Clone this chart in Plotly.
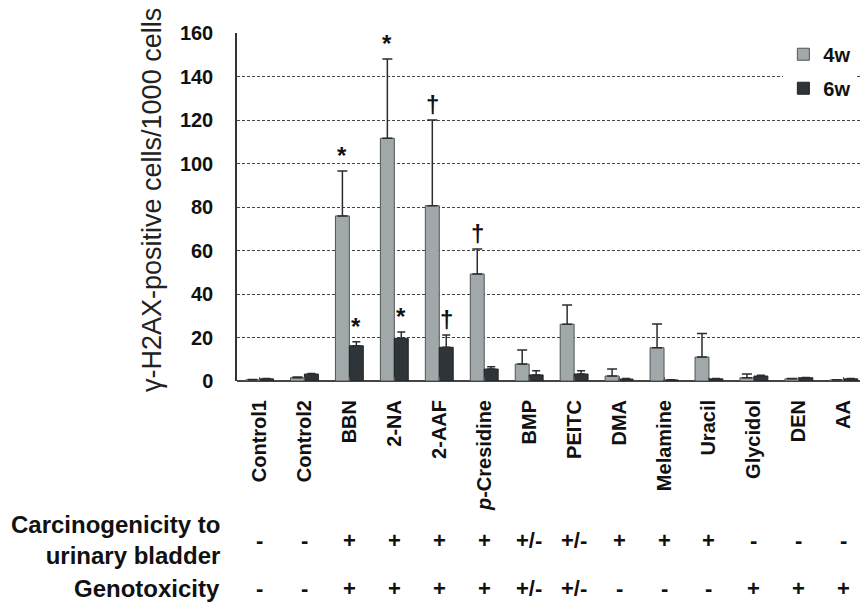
import plotly.graph_objects as go

categories = ["Control1", "Control2", "BBN", "2-NA", "2-AAF", "<i>p</i>-Cresidine", "BMP",
              "PEITC", "DMA", "Melamine", "Uracil", "Glycidol", "DEN", "AA"]
w4_mean = [0.5, 1.5, 75.9, 111.6, 80.6, 49.2, 7.8, 26.1, 2.3, 15.3, 11.0, 1.5, 1.0, 0.5]
w4_sd = [0.2, 0.3, 20.7, 36.4, 39.4, 11.5, 6.5, 8.8, 3.2, 10.9, 10.8, 1.7, 0.2, 0.1]
w6_mean = [1.0, 3.2, 16.2, 19.6, 15.5, 5.5, 2.8, 3.2, 0.9, 0.5, 1.0, 2.3, 1.5, 1.0]
w6_sd = [0.2, 0.3, 1.9, 2.9, 5.6, 1.1, 1.9, 1.5, 0.3, 0.1, 0.2, 0.3, 0.1, 0.1]
sig_4w = ["", "", "*", "*", "†", "†", "", "", "", "", "", "", "", ""]
sig_6w = ["", "", "*", "*", "†", "", "", "", "", "", "", "", "", ""]
carcinogenicity = ["-", "-", "+", "+", "+", "+", "+/-", "+/-", "+", "+", "+", "-", "-", "-"]
genotoxicity = ["-", "-", "+", "+", "+", "+", "+/-", "+/-", "-", "-", "-", "+", "+", "+"]
y_ticks = [0, 20, 40, 60, 80, 100, 120, 140, 160]

FONT = "Liberation Sans, Arial, sans-serif"
GRAY = "#a0a8aa"
DARK = "#2f3439"
idx = list(range(len(categories)))

fig = go.Figure()
fig.add_trace(go.Bar(
    x=idx, y=w4_mean, name="<b>4w</b>", legendgroup="a",
    marker=dict(color=GRAY, line=dict(color="#505457", width=1)),
    error_y=dict(type="data", array=w4_sd, arrayminus=[0] * len(w4_sd), symmetric=False,
                 color="#2a2d30", thickness=1.5, width=5),
))
fig.add_trace(go.Bar(
    x=idx, y=w6_mean, name="<b>6w</b>", legendgroup="b",
    marker=dict(color=DARK, line=dict(color="#202326", width=1)),
    error_y=dict(type="data", array=w6_sd, arrayminus=[0] * len(w6_sd), symmetric=False,
                 color="#2a2d30", thickness=1.5, width=4),
))

annotations = []
for i in idx:
    if sig_4w[i]:
        annotations.append(dict(x=i, y=w4_mean[i] + w4_sd[i], xref="x", yref="y",
                                text="<b>%s</b>" % sig_4w[i], showarrow=False,
                                xshift=-7, yshift=0, yanchor="bottom",
                                font=dict(family=FONT, size=24, color="#111")))
    if sig_6w[i]:
        annotations.append(dict(x=i, y=w6_mean[i] + w6_sd[i], xref="x", yref="y",
                                text="<b>%s</b>" % sig_6w[i], showarrow=False,
                                xshift=7, yshift=0, yanchor="bottom",
                                font=dict(family=FONT, size=24, color="#111")))
    annotations.append(dict(x=i, y=0, xref="x", yref="paper", text="<b>%s</b>" % carcinogenicity[i],
                            showarrow=False, yshift=-159, yanchor="middle",
                            font=dict(family=FONT, size=22, color="#111")))
    annotations.append(dict(x=i, y=0, xref="x", yref="paper", text="<b>%s</b>" % genotoxicity[i],
                            showarrow=False, yshift=-207, yanchor="middle",
                            font=dict(family=FONT, size=22, color="#111")))

annotations.append(dict(x=0, y=0, xref="paper", yref="paper",
                        text="<b>Carcinogenicity to<br>urinary bladder</b>", align="right",
                        showarrow=False, xanchor="right", yanchor="middle", xshift=-15, yshift=-159,
                        font=dict(family=FONT, size=24, color="#111")))
annotations.append(dict(x=0, y=0, xref="paper", yref="paper",
                        text="<b>Genotoxicity</b>", align="right",
                        showarrow=False, xanchor="right", yanchor="middle", xshift=-15, yshift=-207,
                        font=dict(family=FONT, size=24, color="#111")))
annotations.append(dict(x=0, y=0.5, xref="paper", yref="paper",
                        text="γ-H2AX-positive cells/1000 cells", textangle=-90,
                        showarrow=False, xanchor="center", yanchor="middle", xshift=-85, yshift=7,
                        font=dict(family=FONT, size=27, color="#222")))

fig.update_layout(
    width=860, height=607,
    margin=dict(l=237, r=0, t=33, b=226),
    paper_bgcolor="white", plot_bgcolor="white",
    barmode="group", bargap=0.38, bargroupgap=0,
    showlegend=True,
    legend=dict(x=0.877, y=0.995, xanchor="left", yanchor="top", bgcolor="white",
                font=dict(family=FONT, size=20, color="#111"), tracegroupgap=5,
                itemwidth=30, traceorder="grouped"),
    annotations=annotations,
    font=dict(family=FONT),
)
fig.update_xaxes(
    range=[-0.5, 13.36], tickmode="array", tickvals=idx,
    ticktext=["<b>%s</b>" % c for c in categories],
    tickangle=-90, tickfont=dict(family=FONT, size=20, color="#111"),
    ticks="inside", ticklen=4, tickcolor="#555", tickson="boundaries",
    showline=False, showgrid=False, zeroline=False, ticklabelstandoff=14,
)
fig.update_yaxes(
    range=[0, 160], tickvals=y_ticks, ticktext=["<b>%d</b>" % v for v in y_ticks],
    tickfont=dict(family=FONT, size=20, color="#111"), ticks="", ticklabelstandoff=18,
    showgrid=True, gridcolor="#444", griddash="3px,2px", gridwidth=1,
    showline=True, linecolor="#333", linewidth=1.5, zeroline=True, zerolinecolor="#444",
    zerolinewidth=1.5,
)
fig.write_html("out.html")
